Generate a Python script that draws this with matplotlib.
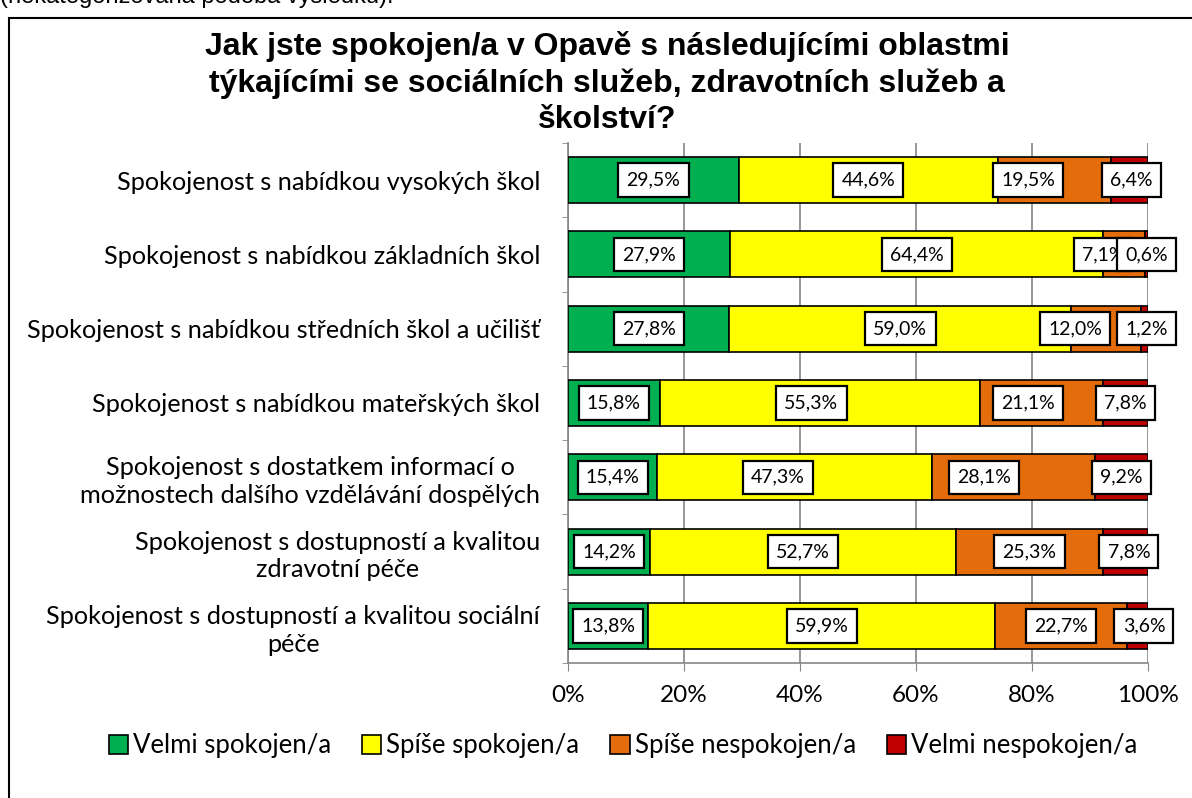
import matplotlib
matplotlib.use('Agg')
import numpy as np
import matplotlib.pyplot as plt
from matplotlib.patches import Rectangle

## Data
categories = ['Spokojenost s nabídkou vysokých škol',
              'Spokojenost s nabídkou základních škol',
              'Spokojenost s nabídkou středních škol a učilišť',
              'Spokojenost s nabídkou mateřských škol',
              'Spokojenost s dostatkem informací o\nmožnostech dalšího vzdělávání dospělých',
              'Spokojenost s dostupností a kvalitou\nzdravotní péče',
              'Spokojenost s dostupností a kvalitou sociální\npéče']
series = ['Velmi spokojen/a', 'Spíše spokojen/a', 'Spíše nespokojen/a', 'Velmi nespokojen/a']
velmi_spok = [29.5, 27.9, 27.8, 15.8, 15.4, 14.2, 13.8]
spise_spok = [44.6, 64.4, 59.0, 55.3, 47.3, 52.7, 59.9]
spise_nespok = [19.5, 7.1, 12.0, 21.1, 28.1, 25.3, 22.7]
velmi_nespok = [6.4, 0.6, 1.2, 7.8, 9.2, 7.8, 3.6]
xticks = [0, 20, 40, 60, 80, 100]

title = ('Jak jste spokojen/a v Opavě s následujícími oblastmi\n'
         'týkajícími se sociálních služeb, zdravotních služeb a\n'
         'školství?')
note = '(nekategorizovaná podoba výsledků).'

## Style
colors = ['#00B050', '#FFFF00', '#E46C0A', '#C00000']
grid_col = '#868686'
# manual label nudges (in % units), like the hand-placed Excel labels
label_shift = [[0, 0, -4.5, 0.3],
               [0, 0, -3.5, 0],
               [0, 0, -5.4, 0.3],
               [0, -1.5, -2.3, 0],
               [0, -2.9, -5.0, 0],
               [0, 0, 0, 0.6],
               [0, 0, 0, 1.1]]
lab_font = 'Lato'

W, H = 1192, 798
fig = plt.figure(figsize=(W/100, H/100), dpi=100)

# chart area border (runs off the right/bottom edge)
fig.patches.append(Rectangle((9/W, -0.1), 1.2, 1 - 18/H + 0.1, transform=fig.transFigure,
                             fill=False, edgecolor='black', linewidth=1.5, clip_on=False))
fig.text(0/W, 1 - 3/H, note, ha='left', va='baseline', fontsize=17,
         family='Liberation Sans')
fig.text(607/W, 1 - 31/H, title, ha='center', va='top', fontsize=23,
         fontweight='bold', family='Liberation Sans', linespacing=1.26)

ax = fig.add_axes([568/W, 135/H, 580/W, 520/H])
data = np.array([velmi_spok, spise_spok, spise_nespok, velmi_nespok])
y = np.arange(len(categories))
left = np.zeros(len(categories))
for k in range(len(series)):
    ax.barh(y, data[k], left=left, height=0.62, color=colors[k],
            edgecolor='black', linewidth=1.2, label=series[k], zorder=3)
    for i in range(len(categories)):
        xc = left[i] + data[k][i]/2 + label_shift[i][k]
        ax.text(xc, y[i], '{:.1f}%'.format(data[k][i]).replace('.', ','),
                ha='center', va='center', fontsize=14, family=lab_font, zorder=5,
                bbox=dict(boxstyle='square,pad=0.42', facecolor='white',
                          edgecolor='black', linewidth=1.6))
    left = left + data[k]

ax.set_xlim(0, 100)
ax.set_ylim(len(categories) - 0.5, -0.5)
ax.set_xticks(xticks)
ax.set_xticklabels(['{}%'.format(t) for t in xticks], fontsize=17.5, family=lab_font)
ax.set_yticks(y)
ax.set_yticklabels(categories, fontsize=18.2, family=lab_font, ha='right',
                   multialignment='center', linespacing=1.25)
ax.set_yticks(np.arange(-0.5, len(categories)), minor=True)
ax.tick_params(axis='y', which='major', length=0, pad=20)
ax.tick_params(axis='y', which='minor', length=4, color=grid_col, direction='out')
ax.tick_params(axis='x', length=6, color=grid_col, pad=10, direction='out')
ax.xaxis.grid(True, color=grid_col, linewidth=1.2, zorder=0)
for s in ['top', 'right']:
    ax.spines[s].set_visible(False)
for s in ['left', 'bottom']:
    ax.spines[s].set_color(grid_col)
    ax.spines[s].set_linewidth(1.2)

leg = fig.legend(loc='center', bbox_to_anchor=(623/W, 1 - 746/H), ncol=4,
                 frameon=False, prop={'family': lab_font, 'size': 18.5},
                 handlelength=0.75, handleheight=0.75, handletextpad=0.2,
                 columnspacing=1.2)
for h in leg.legend_handles:
    h.set_edgecolor('black')
    h.set_linewidth(1.2)

fig.savefig('out.png', dpi=100)
